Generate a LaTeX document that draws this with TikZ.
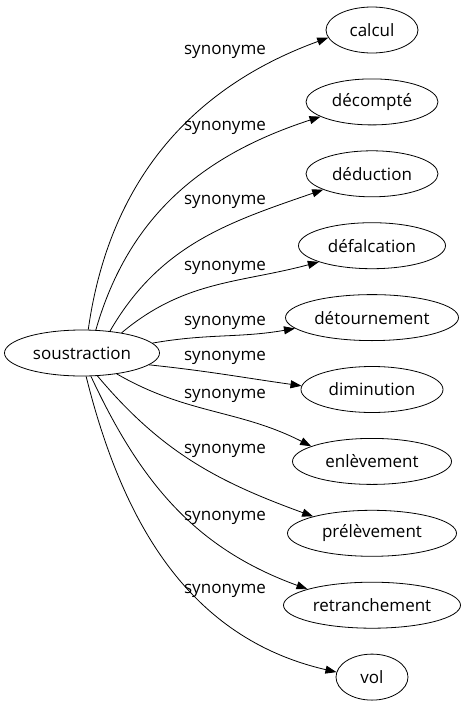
\documentclass[tikz,border=0pt]{standalone}
\usepackage{fontspec}
\setmainfont{Open Sans}
\usetikzlibrary{arrows.meta,shapes.geometric}
\tikzset{
  mot/.style={ellipse, draw, line width=0.8pt, inner sep=0pt, minimum height=46pt, minimum width=#1},
  lien/.style={-{Triangle[length=11pt,width=8pt]}, line width=0.8pt},
  etiq/.style={inner sep=0pt}
}
\begin{document}
\begin{tikzpicture}[x=1pt,y=1pt,font=\fontsize{17}{20}\selectfont]
\useasboundingbox (0,0) rectangle (466,-707);
\node[mot=155] (soustraction) at (82,-353) {soustraction};
% cible/texte/largeur/etiquette/depart/sortie/entree/arrivee
\foreach \nm/\txt/\w/\ly/\sa/\oa/\ia/\ea [count=\i from 0] in {
  calcul/calcul/92/52/75/82/200/190,
  decompte/décompté/132/128/59/74/198/196,
  deduction/déduction/132/202/38/60/199/198,
  defalcation/défalcation/147/268/27/40/195/197,
  detournement/détournement/173/323/8/10/190/188,
  diminution/diminution/142/358/-10/-6/172/177,
  enlevement/enlèvement/159/396/-31/-30/153/166,
  prelevement/prélèvement/169/451/-56/-50/160/164,
  retranchement/retranchement/177/518/-69/-65/160/166,
  vol/vol/72/591/-80/-76/167/172}{
  \pgfmathsetmacro\ty{-30-71.9*\i}
  \node[mot=\w] (\nm) at (372,\ty) {\txt};
  \node[etiq] (s\nm) at (225,-\ly) {synonyme};
  \draw[lien] (soustraction.\sa) to[out=\oa,in=\ia] (\nm.\ea);
}
\end{tikzpicture}
\end{document}
